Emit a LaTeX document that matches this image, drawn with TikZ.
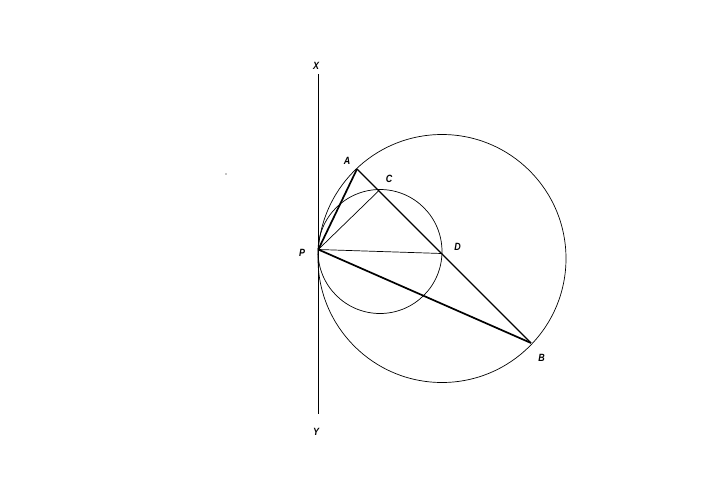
\documentclass[tikz,border=0pt]{standalone}
\usepackage{fontspec}
\setsansfont{Liberation Sans}
\usetikzlibrary{positioning, calc}

\begin{document}
\begin{tikzpicture}[
    x=1pt, y=-1pt,
    label/.style={font=\sffamily\bfseries\itshape\fontsize{10.5}{10.5}\selectfont, inner sep=0pt, xscale=0.85},
    thinline/.style={draw, line width=0.7pt},
    thickline/.style={draw, line width=1.7pt},
    circ/.style={draw, line width=0.7pt}
]
    \useasboundingbox (0,0) rectangle (720,477);
    % Points
    \coordinate (X) at (318,74);
    \coordinate (Y) at (318,414);
    \coordinate (P) at (318.3,249.5);
    \coordinate (A) at (357,169);
    \coordinate (C) at (379,190.5);
    \coordinate (D) at (442,253.5);
    \coordinate (B) at (531,343);
    \coordinate (bigc) at (442,258.5);
    \coordinate (smallc) at (380,251.5);

    % Circles and tangent line
    \draw[circ] (bigc) circle [radius=124pt];
    \draw[circ] (smallc) circle [radius=62pt];
    \draw[thinline] (X) -- (Y);

    % Chords
    \draw[thinline] (P) -- (C);
    \draw[thinline] (P) -- (D);
    \draw[thickline, line width=1.1pt] (A) -- (B);
    \draw[thickline] (P) -- (A);
    \draw[thickline] (P) -- (B);

    % Labels
    \node[label] (lX) at (316,66) {X};
    \node[label] (lY) at (316,432) {Y};
    \node[label] (lA) at (347,161) {A};
    \node[label] (lC) at (389,179) {C};
    \node[label] (lP) at (302,253) {P};
    \node[label] (lD) at (457.5,246.5) {D};
    \node[label] (lB) at (541.5,357.5) {B};

    % stray dot
    \fill (226,174) circle [radius=0.6pt];
\end{tikzpicture}
\end{document}
